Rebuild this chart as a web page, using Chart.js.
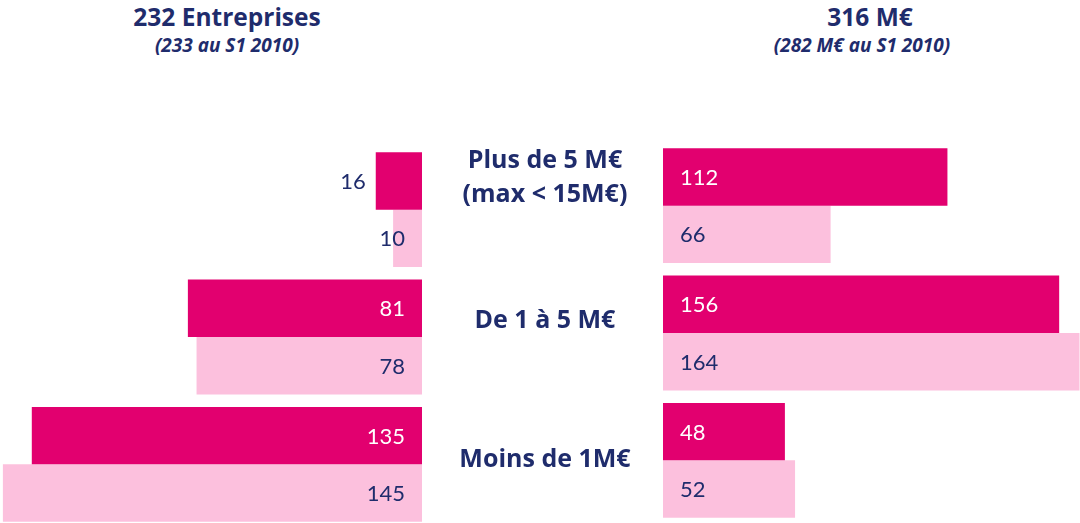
<!DOCTYPE html>
<html><head><meta charset="utf-8">
<script src="https://cdn.jsdelivr.net/npm/chart.js@4.4.1/dist/chart.umd.min.js"></script>
<style>
html,body{margin:0;padding:0;width:1080px;height:523px;overflow:hidden;background:#fff;}
body{position:relative;font-family:Lato,"Open Sans",sans-serif;}
canvas{position:absolute;}
.t{position:absolute;color:#1F2C6C;font-weight:bold;text-align:center;white-space:nowrap;font-family:"Open Sans",Lato,sans-serif;}
.h{font-size:24.5px;line-height:30px;}
.s{font-size:19px;line-height:24px;font-style:italic;}
.c{font-size:25px;line-height:34px;width:300px;left:395px;}
</style></head><body>
<canvas id="left" width="422" height="382" style="left:0;top:146px"></canvas>
<canvas id="right" width="417" height="382" style="left:663px;top:142px"></canvas>
<div id="titles"></div>
<div id="cats"></div>
<script>
const categories = [["Plus de 5 M€", "(max < 15M€)"], ["De 1 à 5 M€"], ["Moins de 1M€"]];
const seriesNames = ["S1 2011", "S1 2010"];
const companies2011 = [16, 81, 135];
const companies2010 = [10, 78, 145];
const amounts2011 = [112, 156, 48];
const amounts2010 = [66, 164, 52];
const leftTitle = "232 Entreprises";
const leftSub = "(233 au S1 2010)";
const rightTitle = "316 M€";
const rightSub = "(282 M€ au S1 2010)";

const NAVY = "#1F2C6C", DARK = "#E2006F", LIGHT = "#FCC0DD";

// titles
const tdiv = document.getElementById('titles');
function addText(txt, cls, cx, top){
  const d = document.createElement('div');
  d.className = 't ' + cls; d.textContent = txt;
  d.style.left = (cx - 200) + 'px'; d.style.width = '400px'; d.style.top = top + 'px';
  tdiv.appendChild(d);
}
addText(leftTitle, 'h', 227, 2);
addText(leftSub, 's', 227, 33);
addText(rightTitle, 'h', 870, 2);
addText(rightSub, 's', 862, 33);

// category labels
const cdiv = document.getElementById('cats');
const catTops = [141, 301, 440];
categories.forEach((lines, i) => {
  lines.forEach((ln, j) => {
    const d = document.createElement('div');
    d.className = 't c'; d.textContent = ln;
    d.style.top = (catTops[i] + j * 34) + 'px';
    cdiv.appendChild(d);
  });
});

const valueLabels = {
  id: 'valueLabels',
  afterDatasetsDraw(chart, args, opts) {
    const ctx = chart.ctx;
    ctx.save();
    ctx.font = '22px Lato, "Open Sans", sans-serif';
    ctx.textBaseline = 'middle';
    chart.data.datasets.forEach((ds, di) => {
      const meta = chart.getDatasetMeta(di);
      meta.data.forEach((el, i) => {
        const v = ds.data[i];
        const txt = String(v);
        const w = ctx.measureText(txt).width;
        const pad = 17;
        const barW = Math.abs(el.x - el.base);
        let x, align, color;
        if (opts.side === 'left') {
          if (di === 0 && barW < w + 2 * pad) {
            x = el.x - 10; align = 'right'; color = NAVY;
          } else {
            x = el.base - pad; align = 'right'; color = di === 0 ? '#ffffff' : NAVY;
          }
        } else {
          x = el.base + pad; align = 'left'; color = di === 0 ? '#ffffff' : NAVY;
        }
        ctx.textAlign = align;
        ctx.fillStyle = color;
        ctx.fillText(txt, x, el.y + 1);
      });
    });
    ctx.restore();
  }
};

function makeChart(id, d1, d2, max, reverse, side){
  return new Chart(document.getElementById(id), {
    type: 'bar',
    data: {
      labels: categories.map(c => c.join(' ')),
      datasets: [
        {label: seriesNames[0], data: d1, backgroundColor: DARK},
        {label: seriesNames[1], data: d2, backgroundColor: LIGHT}
      ]
    },
    options: {
      indexAxis: 'y',
      responsive: false,
      animation: false,
      layout: {padding: 0},
      datasets: {bar: {barPercentage: 1, categoryPercentage: 0.902, borderWidth: 0}},
      scales: {
        x: {display: false, min: 0, max: max, reverse: reverse},
        y: {display: false}
      },
      plugins: {legend: {display: false}, tooltip: {enabled: false}, valueLabels: {side: side}}
    },
    plugins: [valueLabels]
  });
}
makeChart('left', companies2011, companies2010, 146, true, 'left');
makeChart('right', amounts2011, amounts2010, 164.2, false, 'right');
</script>
</body></html>
